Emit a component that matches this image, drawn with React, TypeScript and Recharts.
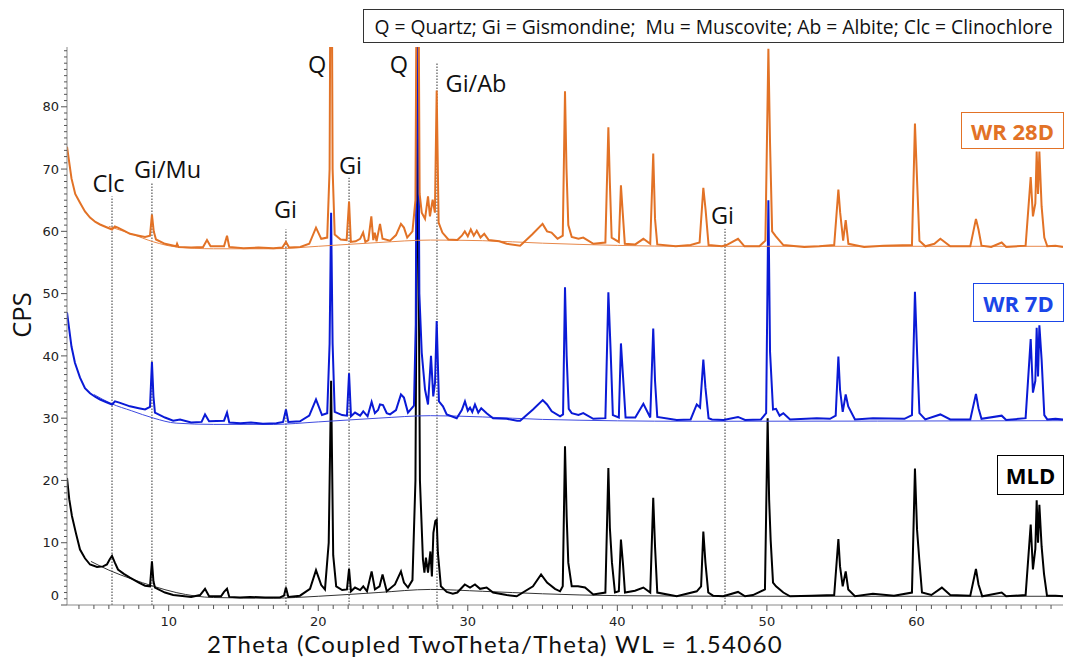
import React from 'react';
import { LineChart, Line, XAxis, YAxis, ReferenceLine, ReferenceDot } from 'recharts';

// [2theta, cps] points (offset traces)
const wr28d: [number, number][] = [
  [3.2, 73.6], [3.5, 68.5], [3.75, 66.0], [4.07, 64.6], [4.4, 63.2], [4.74, 62.2], [5.1, 61.5], [5.41, 61.1],
  [5.8, 60.7], [6.21, 60.3], [6.4, 60.8], [6.6, 60.6], [7.0, 60.1], [7.41, 59.6], [8.0, 59.3], [8.42, 59.1],
  [8.75, 59.3], [8.88, 62.7], [9.0, 60.0], [9.15, 58.7], [9.75, 58.0], [10.5, 57.6], [10.56, 58.0], [10.65, 57.5],
  [11.5, 57.4], [12.3, 57.5], [12.56, 58.6], [12.8, 57.6], [13.7, 57.6], [13.9, 59.3], [14.05, 57.5], [15.0, 57.3],
  [16.0, 57.4], [17.0, 57.3], [17.6, 57.4], [17.84, 58.3], [18.05, 57.4], [18.8, 57.5], [19.4, 58.0], [19.85, 60.6],
  [20.2, 58.8], [20.6, 59.0], [20.76, 70], [20.86, 130], [20.96, 70], [21.1, 59.5], [21.5, 58.7], [21.9, 58.6],
  [22.06, 64.8], [22.18, 58.3], [22.5, 58.4], [22.8, 58.8], [23.0, 59.8], [23.15, 58.3], [23.35, 58.6], [23.55, 62.4],
  [23.68, 58.6], [23.78, 59.8], [23.9, 58.4], [24.13, 61.2], [24.3, 58.8], [24.8, 58.5], [25.2, 59.4], [25.53, 61.2],
  [25.73, 60.6], [25.95, 59.0], [26.3, 60.0], [26.5, 65], [26.64, 130], [26.78, 66], [26.92, 63.0], [27.14, 62.0],
  [27.34, 65.6], [27.47, 62.4], [27.65, 65.1], [27.8, 63.0], [27.92, 82.6], [28.05, 61.4], [28.3, 59.8], [28.7, 58.7],
  [29.3, 58.6], [29.6, 59.3], [29.8, 60.0], [30.0, 59.2], [30.2, 60.3], [30.4, 59.3], [30.6, 60.1], [30.85, 59.0],
  [31.1, 59.6], [31.4, 58.6], [32.1, 58.4], [32.6, 58.0], [33.5, 57.7], [34.3, 59.5], [35.0, 61.2], [35.3, 60.0],
  [35.6, 59.8], [36.0, 58.8], [36.35, 59.3], [36.5, 82.5], [36.6, 70.0], [36.72, 61.0], [36.95, 59.1], [37.4, 58.8],
  [37.72, 59.0], [38.4, 58.0], [39.2, 58.2], [39.4, 76.7], [39.5, 67.8], [39.62, 59.0], [40.1, 58.3], [40.24, 67.4],
  [40.36, 63.0], [40.5, 58.0], [41.2, 57.9], [41.74, 58.8], [42.2, 58.0], [42.4, 72.5], [42.52, 62], [42.67, 57.9],
  [43.9, 57.6], [44.9, 57.8], [45.5, 58.2], [45.75, 67.0], [45.9, 63.5], [46.1, 57.8], [47.0, 57.6], [47.3, 57.8],
  [48.07, 58.8], [48.5, 57.6], [49.5, 57.6], [49.9, 58.5], [50.1, 89.3], [50.21, 74.2], [50.35, 60.0], [50.6, 59.2],
  [51.1, 57.8], [52.5, 57.5], [53.5, 57.6], [54.5, 57.8], [54.78, 66.7], [54.9, 63.0], [55.1, 58.5], [55.27, 61.8],
  [55.45, 58.0], [56.5, 57.5], [57.8, 57.7], [59.7, 57.8], [59.9, 77.3], [60.04, 68.3], [60.2, 58.5], [60.6, 57.6],
  [61.2, 58.0], [61.6, 58.8], [62.26, 57.6], [63.6, 57.6], [63.98, 62.0], [64.15, 60.3], [64.35, 57.7], [65.0, 57.5],
  [65.7, 58.2], [66.0, 57.5], [67.3, 57.7], [67.64, 68.7], [67.79, 62.4], [67.95, 64.5], [68.04, 72.8], [68.13, 66.0],
  [68.22, 72.8], [68.37, 64.0], [68.55, 59.0], [68.75, 57.6], [69.3, 57.7], [69.8, 57.5],
];

const wr7d: [number, number][] = [
  [3.2, 47.0], [3.5, 41.5], [3.73, 38.9], [4.07, 36.5], [4.4, 34.8], [4.74, 34.0], [5.1, 33.4], [5.41, 33.0],
  [5.8, 32.6], [6.21, 32.2], [6.41, 32.7], [6.7, 32.5], [7.41, 31.9], [8.0, 31.6], [8.42, 31.4], [8.75, 31.8],
  [8.88, 39.0], [8.98, 33.5], [9.08, 30.9], [9.75, 30.1], [10.3, 29.6], [10.76, 29.8], [11.5, 29.3], [12.2, 29.4],
  [12.43, 30.6], [12.7, 29.5], [13.7, 29.6], [13.9, 30.9], [14.05, 29.3], [14.8, 29.2], [15.5, 29.3], [16.3, 29.1],
  [17.2, 29.2], [17.65, 29.4], [17.84, 31.4], [18.0, 29.4], [18.78, 29.5], [19.4, 30.4], [19.85, 33.0], [20.25, 30.5],
  [20.6, 30.8], [20.76, 42], [20.86, 63], [20.96, 42], [21.1, 31.0], [21.6, 30.5], [21.92, 30.4], [22.06, 37.2],
  [22.19, 30.3], [22.46, 30.9], [22.8, 30.4], [23.01, 31.1], [23.3, 30.3], [23.57, 32.6], [23.79, 30.8], [24.0, 31.3],
  [24.13, 32.2], [24.33, 32.1], [24.58, 30.8], [24.8, 30.6], [25.2, 31.3], [25.53, 33.8], [25.73, 33.3], [26.0, 30.9],
  [26.4, 32.0], [26.52, 45], [26.64, 110], [26.76, 50], [26.92, 40.5], [27.14, 34.6], [27.34, 32.2], [27.54, 40.0],
  [27.69, 33.5], [27.81, 35.7], [27.92, 45.6], [28.07, 32.7], [28.34, 31.9], [28.59, 30.6], [29.26, 30.0], [29.6, 31.3],
  [29.81, 32.7], [30.0, 31.2], [30.15, 31.7], [30.3, 31.0], [30.48, 32.2], [30.7, 30.9], [30.9, 31.6], [31.26, 30.8],
  [31.69, 30.0], [32.6, 29.9], [33.3, 29.6], [33.5, 29.6], [34.36, 31.4], [35.01, 32.9], [35.3, 32.2], [35.61, 31.1],
  [36.17, 30.3], [36.37, 30.6], [36.5, 51.0], [36.61, 40.0], [36.75, 31.5], [36.95, 30.8], [37.4, 30.5], [37.72, 30.8],
  [38.39, 29.9], [39.2, 30.0], [39.4, 50.2], [39.56, 40.2], [39.7, 30.5], [40.1, 30.1], [40.24, 42.0], [40.38, 36.7],
  [40.55, 30.1], [41.2, 30.1], [41.74, 32.3], [42.2, 30.1], [42.4, 44.4], [42.52, 36], [42.67, 30.2], [43.97, 29.7],
  [44.9, 29.8], [45.31, 32.2], [45.53, 31.7], [45.75, 39.4], [45.89, 34.9], [46.1, 30.0], [46.33, 29.8], [47.1, 29.7],
  [48.07, 30.2], [48.54, 29.7], [49.6, 29.8], [49.95, 30.8], [50.1, 65.0], [50.21, 40.7], [50.41, 31.4], [50.61, 31.5],
  [50.85, 30.4], [51.1, 30.8], [51.55, 29.8], [53.33, 30.0], [54.22, 29.9], [54.6, 30.4], [54.78, 39.9], [54.89, 34.6],
  [55.07, 31.0], [55.27, 33.8], [55.44, 31.9], [55.89, 29.8], [57.09, 30.0], [59.2, 29.9], [59.7, 30.5], [59.9, 50.3],
  [60.04, 40.7], [60.2, 30.8], [60.59, 29.8], [61.6, 30.6], [62.26, 29.8], [63.6, 29.8], [63.98, 33.9], [64.15, 31.6],
  [64.35, 29.9], [65.7, 30.4], [66.0, 29.7], [67.3, 30.0], [67.64, 42.7], [67.79, 34.1], [67.95, 36.0], [68.04, 44.5],
  [68.13, 36.7], [68.22, 44.9], [68.37, 39.4], [68.55, 30.5], [68.75, 29.8], [69.3, 29.9], [69.8, 29.8],
];

const mld: [number, number][] = [
  [3.2, 20.4], [3.35, 17.0], [3.53, 14.3], [3.8, 11.5], [4.07, 8.9], [4.4, 7.5], [4.74, 6.5], [5.21, 6.1],
  [5.61, 6.2], [5.87, 6.5], [6.05, 7.3], [6.21, 7.9], [6.4, 6.8], [6.61, 5.7], [7.0, 5.0], [7.41, 4.4],
  [8.0, 3.6], [8.42, 3.1], [8.75, 3.0], [8.88, 7.0], [8.98, 3.8], [9.08, 2.8], [9.75, 2.0], [10.3, 1.6],
  [10.76, 1.5], [11.5, 1.3], [12.1, 1.6], [12.43, 2.6], [12.7, 1.4], [13.5, 1.4], [13.7, 2.1], [13.9, 2.6],
  [14.05, 1.3], [14.77, 1.2], [15.44, 1.3], [16.44, 1.2], [17.44, 1.2], [17.71, 1.5], [17.84, 2.8], [18.0, 1.3],
  [18.78, 1.5], [19.45, 2.6], [19.85, 5.6], [20.2, 3.2], [20.45, 2.5], [20.7, 10], [20.86, 36], [21.0, 8],
  [21.2, 3.0], [21.6, 2.4], [21.92, 2.5], [22.06, 5.8], [22.19, 2.2], [22.46, 2.8], [22.8, 2.4], [23.01, 3.0],
  [23.26, 2.2], [23.57, 5.4], [23.79, 2.5], [24.1, 3.0], [24.3, 4.9], [24.58, 2.2], [25.13, 3.3], [25.53, 5.4],
  [25.73, 3.6], [26.0, 2.8], [26.3, 4.0], [26.5, 20], [26.64, 85], [26.8, 20], [27.0, 7.3], [27.1, 5.2],
  [27.2, 7.6], [27.34, 5.2], [27.5, 8.6], [27.6, 4.6], [27.7, 11.6], [27.83, 13.5], [27.92, 13.7], [28.0, 8.4],
  [28.2, 3.0], [28.59, 2.1], [29.0, 1.8], [29.3, 2.0], [29.8, 3.3], [30.15, 2.8], [30.48, 3.3], [30.82, 2.6],
  [31.26, 2.8], [31.69, 2.0], [32.6, 1.6], [33.27, 1.4], [34.36, 3.0], [34.9, 4.9], [35.3, 3.6], [35.83, 2.6],
  [36.17, 2.2], [36.35, 3.0], [36.5, 25.5], [36.61, 14.3], [36.72, 6.8], [36.95, 3.0], [37.37, 3.0], [37.84, 2.8],
  [38.39, 1.7], [39.2, 2.0], [39.4, 22.0], [39.5, 12.4], [39.64, 6.8], [39.84, 2.0], [40.1, 2.2], [40.24, 10.5],
  [40.38, 6.5], [40.51, 2.0], [41.18, 2.3], [41.74, 2.8], [42.2, 2.0], [42.4, 17.2], [42.52, 9.4], [42.67, 2.0],
  [43.97, 1.4], [45.31, 2.2], [45.6, 3.0], [45.75, 11.8], [45.89, 6.8], [46.08, 2.0], [46.4, 1.5], [47.08, 1.4],
  [48.07, 2.1], [48.54, 1.4], [49.07, 1.6], [49.87, 2.5], [50.05, 30.0], [50.15, 16.9], [50.25, 10.5], [50.41, 3.6],
  [50.61, 3.0], [51.1, 2.0], [51.55, 1.4], [53.0, 1.5], [54.5, 1.6], [54.78, 10.6], [54.89, 6.2], [55.07, 3.0],
  [55.27, 5.4], [55.44, 2.5], [55.89, 1.4], [57.09, 1.8], [58.5, 1.5], [59.7, 2.0], [59.9, 21.9], [60.04, 12.1],
  [60.19, 7.3], [60.37, 2.0], [61.0, 1.6], [61.7, 2.8], [62.26, 1.6], [63.6, 1.5], [63.98, 5.8], [64.15, 3.3],
  [64.4, 1.4], [65.7, 2.0], [66.0, 1.4], [67.3, 1.6], [67.64, 12.9], [67.79, 5.7], [67.95, 9.0], [68.04, 16.8],
  [68.13, 10.0], [68.22, 16.1], [68.37, 9.4], [68.53, 5.0], [68.73, 1.5], [69.3, 1.5], [69.8, 1.4],
];

// fitted backgrounds
const wr28dBg: [number, number][] = [
  [6.0, 60.8], [7.5, 59.6], [9.0, 58.3], [10.5, 57.5], [13, 57.2], [17, 57.2], [20, 57.6], [24, 58.2],
  [27.5, 58.6], [31, 58.5], [35, 58.1], [45, 57.6], [69.8, 57.6],
];
const wr7dBg: [number, number][] = [
  [5.0, 33.8], [6.2, 32.3], [7.5, 31.2], [9.0, 30.0], [10.5, 29.2], [13, 29.0], [17, 29.0], [20, 29.4],
  [24, 30.0], [27.5, 30.4], [31, 30.2], [35, 29.8], [45, 29.5], [69.8, 29.6],
];
const mldBg: [number, number][] = [
  [4.8, 7.0], [6.0, 5.6], [7.5, 4.2], [9.0, 3.0], [10.5, 2.0], [13, 1.2], [17, 1.1], [20, 1.4],
  [24, 2.0], [27.5, 2.5], [31, 2.2], [35, 1.8], [40, 1.5], [50, 1.4], [69.8, 1.4],
];

// phase markers: [2theta, top of dotted line]
const markers: [number, number][] = [[6.21, 65.6], [8.88, 67.8], [17.84, 60.3], [22.06, 68.6], [27.94, 87.0], [47.2, 60.4]];
// annotation text: [label, 2theta, cps] (centre of the text)
const notes: [string, number, number][] = [
  ['Clc', 5.98, 67.7], ['Gi/Mu', 9.92, 69.9], ['Gi', 17.81, 63.5], ['Q', 19.92, 86.8],
  ['Gi', 22.16, 70.6], ['Q', 25.4, 86.8], ['Gi/Ab', 30.55, 83.7], ['Gi', 47.03, 62.5],
];

const xTicks = Array.from({ length: 66 }, (_, i) => i + 4);
const yTicks = Array.from({ length: 90 }, (_, i) => i);

const ORANGE = '#E27226';
const BLUE = '#0A1AD6';
const BLUE_TXT = '#1B46E8';
const SANS = '"Open Sans", sans-serif';

const toPts = (arr: [number, number][]) => arr.map(([x, y]) => ({ x, y }));

const YTick = (props: any) => {
  const { x, y, payload } = props;
  const v = payload.value;
  const major = v % 10 === 0;
  return (
    <g>
      <line x1={x - (major ? 6 : 3)} x2={x} y1={y} y2={y} stroke="#555" strokeWidth={1} />
      {major && (
        <text x={x - 8} y={v === 0 ? y - 10 : y} dy="0.36em" textAnchor="end"
          fontFamily="DejaVu Sans, Verdana, sans-serif" fontSize={13} fill="#222">{v}</text>
      )}
    </g>
  );
};

const XTick = (props: any) => {
  const { x, y, payload } = props;
  const v = payload.value;
  const major = v % 10 === 0;
  return (
    <g>
      <line x1={x} x2={x} y1={y} y2={y + (major ? 6 : 4)} stroke="#555" strokeWidth={1} />
      {major && (
        <text x={x} y={y + 21} textAnchor="middle"
          fontFamily="DejaVu Sans, Verdana, sans-serif" fontSize={13} fill="#222">{v}</text>
      )}
    </g>
  );
};

const NoteLabel = (text: string) => (props: any) => {
  const { viewBox } = props;
  return (
    <text x={viewBox.x} y={viewBox.y} dy="0.36em" textAnchor="middle" fontFamily={SANS} fontSize={23.5} fill="#111">
      {text}
    </text>
  );
};

const boxStyle = (color: string, left: number, top: number, w: number, h: number): React.CSSProperties => ({
  position: 'absolute', left, top, width: w, height: h, boxSizing: 'border-box',
  border: `1.5px solid ${color}`, color, background: '#fff', fontFamily: SANS, fontWeight: 700,
  fontSize: 22, display: 'flex', alignItems: 'center', justifyContent: 'center',
});

export default function App() {
  return (
    <div style={{ position: 'absolute', left: 0, top: 0, width: 1065, height: 659, background: '#fff', overflow: 'hidden' }}>
      <LineChart width={1065} height={659} margin={{ top: 47, right: 2, bottom: 0, left: 0 }}>
        <XAxis type="number" dataKey="x" domain={[3.2, 69.8]} allowDataOverflow ticks={xTicks} interval={0}
          tick={<XTick />} tickLine={false} tickSize={0} tickMargin={0} height={54}
          axisLine={{ stroke: '#8a8a8a' }} />
        <YAxis type="number" domain={[0, 89.6]} allowDataOverflow ticks={yTicks} interval={0}
          tick={<YTick />} tickLine={false} tickSize={0} tickMargin={0} width={67}
          axisLine={{ stroke: '#8a8a8a' }} />
        {markers.map(([x, top], i) => (
          <ReferenceLine key={`m${i}`} segment={[{ x, y: 0 }, { x, y: top }]} stroke="#333"
            strokeWidth={1} strokeDasharray="1.5 1.5" />
        ))}
        <Line data={toPts(mldBg)} dataKey="y" type="monotone" stroke="#333" strokeWidth={1} dot={false} isAnimationActive={false} />
        <Line data={toPts(mld)} dataKey="y" type="linear" stroke="#000" strokeWidth={2} dot={false} isAnimationActive={false} />
        <Line data={toPts(wr7dBg)} dataKey="y" type="monotone" stroke="#3f4be0" strokeWidth={1} dot={false} isAnimationActive={false} />
        <Line data={toPts(wr7d)} dataKey="y" type="linear" stroke={BLUE} strokeWidth={2} dot={false} isAnimationActive={false} />
        <Line data={toPts(wr28dBg)} dataKey="y" type="monotone" stroke="#E8884A" strokeWidth={1} dot={false} isAnimationActive={false} />
        <Line data={toPts(wr28d)} dataKey="y" type="linear" stroke={ORANGE} strokeWidth={2} dot={false} isAnimationActive={false} />
        {notes.map(([t, x, y], i) => (
          <ReferenceDot key={`n${i}`} x={x} y={y} r={0} stroke="none" fill="none" label={NoteLabel(t)} />
        ))}
      </LineChart>

      <div style={{ position: 'absolute', left: 22, top: 315, transform: 'translate(-50%, -50%) rotate(-90deg)',
        fontFamily: SANS, fontSize: 25.5, lineHeight: 1, color: '#111', whiteSpace: 'nowrap' }}>CPS</div>
      <div style={{ position: 'absolute', left: 495, top: 632, transform: 'translateX(-50%)',
        fontFamily: 'Lato, sans-serif', fontSize: 24, letterSpacing: 1.35, lineHeight: 1, color: '#111', whiteSpace: 'nowrap' }}>
        2Theta (Coupled TwoTheta/Theta) WL = 1.54060
      </div>

      <div style={{ position: 'absolute', left: 363, top: 9, width: 701, height: 34, boxSizing: 'border-box',
        border: '1px solid #333', background: '#fff', fontFamily: SANS, fontSize: 19.3, color: '#111',
        display: 'flex', alignItems: 'center', justifyContent: 'center', whiteSpace: 'pre' }}>
        {'Q = Quartz; Gi = Gismondine;  Mu = Muscovite; Ab = Albite; Clc = Clinochlore'}
      </div>

      <div style={boxStyle(ORANGE, 961, 112, 103, 37)}>WR 28D</div>
      <div style={boxStyle(BLUE_TXT, 973, 283, 91, 39)}>WR 7D</div>
      <div style={boxStyle('#000', 997, 455, 67, 40)}>MLD</div>
    </div>
  );
}
